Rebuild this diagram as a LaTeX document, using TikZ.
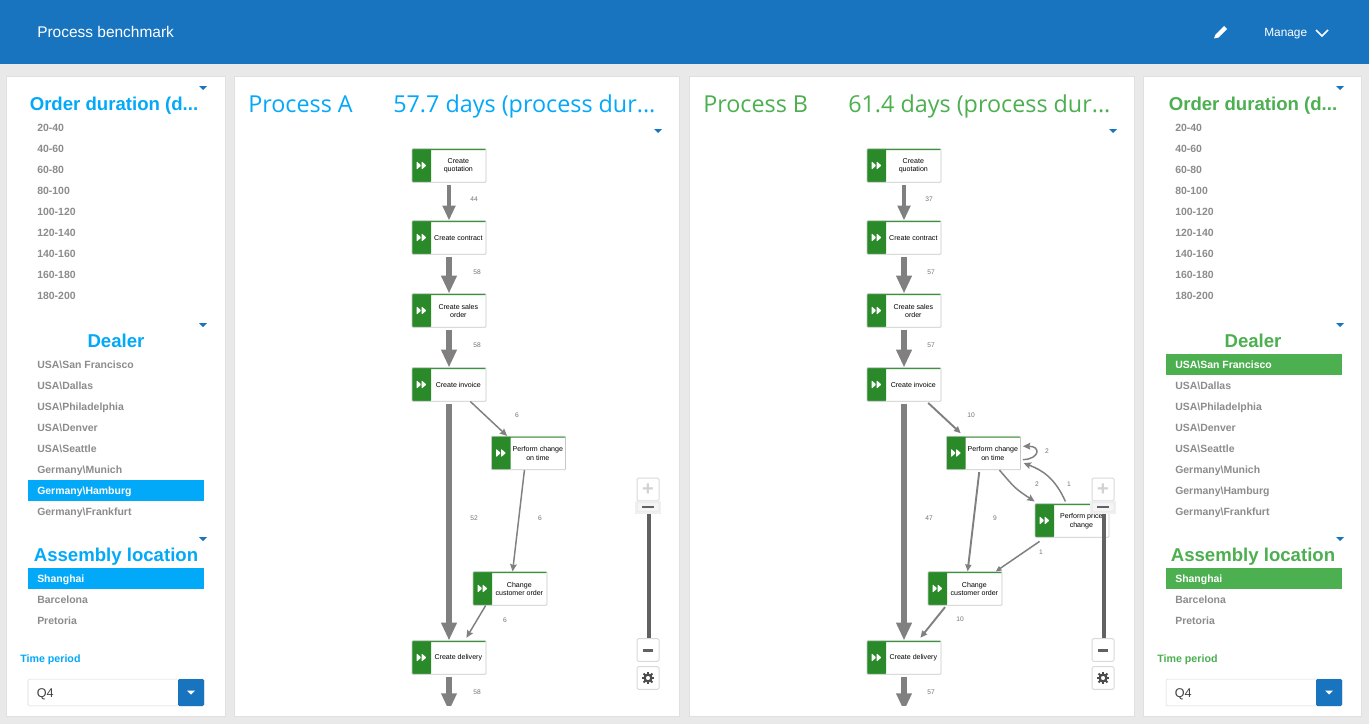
\documentclass[tikz,border=0pt]{standalone}
\usepackage{fontspec}
\setmainfont{Liberation Sans}
\newfontfamily\osans{Open Sans}
\usetikzlibrary{arrows.meta}
\definecolor{HDR}{HTML}{1874BF}
\definecolor{BGR}{HTML}{E9E9E9}
\definecolor{BLU}{HTML}{03A9F9}
\definecolor{GRN}{HTML}{4CAF50}
\definecolor{DGR}{HTML}{2A8A2A}
\definecolor{LBL}{HTML}{8C8C8C}
\definecolor{ARW}{HTML}{808080}
\tikzset{
    PN/.style ={rectangle,draw=black!12,fill=white,line width=.75pt},
    RA/.style ={rectangle,minimum width = 55.5pt, minimum height = 25pt, draw=DGR!30!black!25, fill=white, line width=.6pt, inner sep=0pt, rounded corners=.6pt,
        path picture={
            \fill[DGR] (path picture bounding box.south west) rectangle ([xshift=14.25pt]path picture bounding box.north west);
            \fill[DGR] ([yshift=-1pt]path picture bounding box.north west) rectangle (path picture bounding box.north east);
            \fill[white] ([xshift=3.4pt,yshift=3.1pt]path picture bounding box.west) -- ++(0,-6.2pt) -- ++(3.6pt,3.1pt) -- cycle;
            \fill[white] ([xshift=7.2pt,yshift=3.1pt]path picture bounding box.west) -- ++(0,-6.2pt) -- ++(3.6pt,3.1pt) -- cycle;}},
    TX/.style ={align=center,inner sep=0pt,font=\fontsize{5.3}{6.2}\selectfont},
    NU/.style ={inner sep=0pt,text=black!55,font=\fontsize{5}{6}\selectfont},
    RO/.style ={anchor=base west,yshift=-3pt,inner sep=0pt,text=LBL,font=\fontsize{7.85}{10}\selectfont\bfseries},
    HD/.style ={anchor=base,inner sep=0pt,font=\fontsize{13.95}{18}\selectfont\bfseries},
    TT/.style ={anchor=base west,inner sep=0pt,font=\fontsize{17.5}{22}\selectfont\osans},
    TP/.style ={anchor=base west,inner sep=0pt,font=\fontsize{8}{10}\selectfont\bfseries},
    AT/.style ={ARW,line width=#1*.75pt,-{Triangle[length=#1*2.2pt+1pt,width=#1*1.8pt+1pt]},shorten <=1.5pt},
    AC/.style ={ARW,line width=1.1pt,-{Stealth[length=5.5pt,width=5pt,inset=.8pt]}},
    ZB/.style ={rectangle,draw=black!15,fill=white,line width=.75pt,rounded corners=1pt,minimum width=16.5pt,minimum height=17pt,inner sep=0pt},
    HB/.style ={rectangle,fill=#1,minimum width=132pt,minimum height=15.75pt,inner sep=0pt}}
\newcommand{\act}[4]{
    \node[RA] (#1) at (#2,#3) {};
    \node[TX] (#1t) at ([xshift=7pt,yshift=-.4pt]#1.center) {#4};}
\newcommand{\zoomer}[2]{
    \fill[black!62] (#1-1.5,510) rectangle (#1+3,640);
    \node[ZB,text=black!18] (#2p) at (#1,489.5) {\fontsize{15}{15}\selectfont\bfseries +};
    \fill[black!6] (#1-13,501) rectangle (#1+13,514);
    \node[ZB,fill=black!4,draw=black!8,minimum width=16.5pt,minimum height=7pt] (#2h) at (#1,507) {};
    \fill[black!62] (#1-6,506) rectangle (#1+6,508);
    \node[ZB] (#2m) at (#1,650) {};
    \fill[black!62] (#1-5,649) rectangle (#1+5,651.5);
    \node[ZB] (#2s) at (#1,678) {};
    \draw[black!70,line width=1.7pt] (#2s) circle (3.4);
    \foreach \a in {0,45,...,315}{
        \draw[black!70,line width=1.4pt] ([shift={(\a:3.4)}]#2s.center) -- ([shift={(\a:6.3)}]#2s.center);}}
\newcommand{\combo}[3]{
    \node[rectangle,draw=black!15,fill=white,rounded corners=1pt,minimum width=132pt,minimum height=20pt,inner sep=0pt] (#3b) at (#1,692.5) {};
    \node[anchor=west,inner sep=0pt,font=\fontsize{9.5}{11}\selectfont,text=black!75] (#3q) at (#1-79.5,694) {Q4};
    \fill[HDR,rounded corners=1pt] (#2-13,679) rectangle (#2+13,706);
    \fill[white] (#2-4,690.5) -- (#2+4,690.5) -- (#2,694.5) -- cycle;}
\begin{document}
\begin{tikzpicture}[x=.75pt,y=-.75pt]
    \useasboundingbox (0,0) rectangle (1369,724);
    \fill[BGR] (0,0) rectangle (1369,724);
    \fill[HDR] (0,0) rectangle (1369,64);
    \node[anchor=base west,inner sep=0pt,text=white,font=\fontsize{11.6}{14}\selectfont] (title) at (37,37.5) {Process benchmark};
    \node[anchor=base west,inner sep=0pt,text=white,font=\fontsize{8.9}{11}\selectfont] (manage) at (1264,36.5) {Manage};
    \draw[white,line width=1.3pt] (1316,30) -- (1322,36) -- (1328,30);
    % pencil
    \fill[white] (1214,38.5) -- (1215.5,34.5) -- (1224,26) -- (1227,29) -- (1218.5,37.5) -- cycle;
    % cards
    \draw[PN] (6.8,76.5) rectangle (225.8,716.8);
    \draw[PN] (234.8,76.5) rectangle (679.8,716.8);
    \draw[PN] (689.8,76.5) rectangle (1134.8,716.8);
    \draw[PN] (1143.8,76.5) rectangle (1361.8,716.8);
    \foreach \x/\y in {203/88,203/325,203/539,658/131,1113/131,1340/88,1340/325,1340/539}{
        \fill[HDR] (\x-4,\y-2) -- (\x+4,\y-2) -- (\x,\y+2) -- cycle;}
    % left filters
    \node[HD,text=BLU] (odA) at (114,110.5) {Order duration (d...};
    \node[HD,text=BLU] (deA) at (116,347.5) {Dealer};
    \node[HD,text=BLU] (asA) at (116,561.5) {Assembly location};
    \node[TP,text=BLU] (tpA) at (20,662) {Time period};
    \node[HB=BLU] (hgA) at (116,490.5) {};
    \node[HB=BLU] (hsA) at (116,578) {};
    % right filters
    \node[HD,text=GRN] (odB) at (1253,110.5) {Order duration (d...};
    \node[HD,text=GRN] (deB) at (1253,347.5) {Dealer};
    \node[HD,text=GRN] (asB) at (1253,561.5) {Assembly location};
    \node[TP,text=GRN] (tpB) at (1157,662) {Time period};
    \node[HB=GRN] (hgB) at (1253.5,364.5) {};
    \node[HB=GRN] (hsB) at (1253.5,578) {};
    \foreach \x/\p in {37/A,1175/B}{
        \foreach \t [count=\i from 0] in {20-40,40-60,60-80,80-100,100-120,120-140,140-160,160-180,180-200}{
            \node[RO] (o\p\i) at (\x,127+21*\i) {\t};}
        \node[RO] (d\p2) at (\x,385) {USA\textbackslash Dallas};
        \node[RO] (d\p3) at (\x,406) {USA\textbackslash Philadelphia};
        \node[RO] (d\p4) at (\x,427) {USA\textbackslash Denver};
        \node[RO] (d\p5) at (\x,448) {USA\textbackslash Seattle};
        \node[RO] (d\p6) at (\x,469) {Germany\textbackslash Munich};
        \node[RO] (d\p8) at (\x,511) {Germany\textbackslash Frankfurt};
        \node[RO] (a\p2) at (\x,599) {Barcelona};
        \node[RO] (a\p3) at (\x,620) {Pretoria};}
    \node[RO] (dA1) at (37,364) {USA\textbackslash San Francisco};
    \node[RO,text=white] (dB1) at (1175,364) {USA\textbackslash San Francisco};
    \node[RO,text=white] (dA7) at (37,490) {Germany\textbackslash Hamburg};
    \node[RO] (dB7) at (1175,490) {Germany\textbackslash Hamburg};
    \node[RO,text=white] (aA1) at (37,578) {Shanghai};
    \node[RO,text=white] (aB1) at (1175,578) {Shanghai};
    \combo{116}{191}{cbA}
    \combo{1254}{1329}{cbB}
    % titles
    \node[TT,text=BLU] (pA) at (248,112) {Process A};
    \node[TT,text=BLU] (dA) at (393,112) {57.7 days (process dur...};
    \node[TT,text=GRN] (pB) at (703,112) {Process B};
    \node[TT,text=GRN] (dB) at (848,112) {61.4 days (process dur...};
    % process A
    \act{qA}{449}{165.5}{Create\\quotation}
    \act{cA}{449}{237.5}{Create contract}
    \act{sA}{449}{310.5}{Create sales\\order}
    \act{iA}{449}{384.5}{Create invoice}
    \act{tA}{528.5}{453}{Perform change\\on time}
    \act{uA}{510}{588.5}{Change\\customer order}
    \act{vA}{449}{657.5}{Create delivery}
    \coordinate (eA) at (449,711);
    \draw[AT=4.6] (qA) -- (cA);
    \draw[AT=5.6] (cA) -- (sA);
    \draw[AT=5.6] (sA) -- (iA);
    \draw[AT=5.6] (iA) -- (vA);
    \begin{scope}
        \clip (400,660) rectangle (500,705);
        \draw[AT=5.6] (vA) -- (eA);
    \end{scope}
    \draw[AC] ([xshift=-12pt]iA.south east) -- ([xshift=12pt]tA.north west);
    \draw[AC] ([xshift=25pt]tA.south west) -- ([xshift=30pt]uA.north west);
    \draw[AC] ([xshift=9.75pt]uA.south west) -- ([xshift=-15pt,yshift=2pt]vA.north east);
    \node[NU] (n1) at (474,199) {44};
    \node[NU] (n2) at (477,272) {58};
    \node[NU] (n3) at (477,345) {58};
    \node[NU] (n4) at (517,415) {6};
    \node[NU] (n5) at (474,518) {52};
    \node[NU] (n6) at (540,518) {6};
    \node[NU] (n7) at (505,620) {6};
    \node[NU] (n8) at (477,692) {58};
    \zoomer{648}{zA}
    % process B
    \act{qB}{904}{165.5}{Create\\quotation}
    \act{cB}{904}{237.5}{Create contract}
    \act{sB}{904}{310.5}{Create sales\\order}
    \act{iB}{904}{384.5}{Create invoice}
    \act{tB}{983.5}{453}{Perform change\\on time}
    \act{rB}{1072}{520.5}{Perform price\\change}
    \act{uB}{965}{588.5}{Change\\customer order}
    \act{vB}{904}{657.5}{Create delivery}
    \coordinate (eB) at (904,711);
    \draw[AT=4.6] (qB) -- (cB);
    \draw[AT=5.6] (cB) -- (sB);
    \draw[AT=5.6] (sB) -- (iB);
    \draw[AT=5.6] (iB) -- (vB);
    \begin{scope}
        \clip (850,660) rectangle (950,705);
        \draw[AT=5.6] (vB) -- (eB);
    \end{scope}
    \draw[AT=1.9] ([xshift=-11pt]iB.south east) -- ([xshift=11pt,yshift=2pt]tB.north west);
    \draw[AT=1.9] ([xshift=25pt]tB.south west) -- ([xshift=30pt]uB.north west);
    \draw[AC] ([xshift=40pt]tB.south west) .. controls ([xshift=52pt,yshift=-14pt]tB.south west) .. ([yshift=1.5pt]rB.north west);
    \draw[AC] ([xshift=-33pt,yshift=1.5pt]rB.north east) .. controls (1055,478) and (1042,470) .. ([xshift=2pt,yshift=5.25pt]tB.south east);
    \draw[AC] ([xshift=1.5pt,yshift=-5pt]tB.east) .. controls (1040,459) and (1041,446) .. ([xshift=1.5pt,yshift=5pt]tB.east);
    \draw[AT=1.5] ([xshift=5pt,yshift=-2pt]rB.south west) -- ([xshift=-5pt]uB.north east);
    \draw[AT=1.9] ([xshift=14pt]uB.south west) -- ([xshift=-15.75pt,yshift=2pt]vB.north east);
    \node[NU] (m1) at (929,199) {37};
    \node[NU] (m2) at (931,272) {57};
    \node[NU] (m3) at (931,345) {57};
    \node[NU] (m4) at (971,415) {10};
    \node[NU] (m5) at (1047,451) {2};
    \node[NU] (m6) at (1069,484) {1};
    \node[NU] (m7) at (1037,484) {2};
    \node[NU] (m8) at (929,518) {47};
    \node[NU] (m9) at (995,518) {9};
    \node[NU] (m10) at (1041,552) {1};
    \node[NU] (m11) at (960,619) {10};
    \node[NU] (m12) at (931,692) {57};
    \zoomer{1103}{zB}
\end{tikzpicture}
\end{document}
